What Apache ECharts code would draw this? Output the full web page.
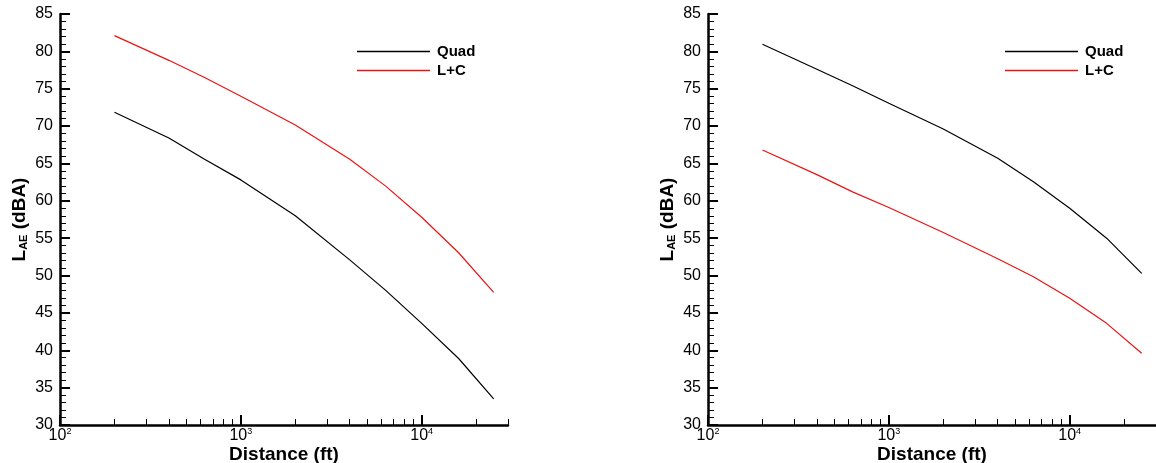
<!DOCTYPE html>
<html>
<head>
<meta charset="utf-8">
<script src="https://cdn.jsdelivr.net/npm/echarts@6/dist/echarts.min.js"></script>
<style>
html,body{margin:0;padding:0;background:#fff;}
#c{width:1156px;height:463px;}
</style>
</head>
<body>
<div id="c"></div>
<script>
// ---- data ----
const distances = [200, 400, 630, 1000, 2000, 4000, 6300, 10000, 16000, 25000];
const leftQuad  = [71.85, 68.4, 65.55, 62.8, 58.0, 52.1, 48.05, 43.6, 38.9, 33.5];
const leftLC    = [82.1, 78.8, 76.5, 74.0, 70.15, 65.55, 62.0, 57.8, 53.05, 47.75];
const rightQuad = [80.95, 77.6, 75.4, 73.05, 69.6, 65.7, 62.55, 59.0, 55.0, 50.3];
const rightLC   = [66.8, 63.5, 61.2, 59.1, 55.75, 52.25, 49.85, 46.95, 43.6, 39.6];
const seriesNames = ['Quad', 'L+C'];
const majorTicksX = [100, 1000, 10000];
const minorTicksX = [200,300,400,500,600,700,800,900,2000,3000,4000,5000,6000,7000,8000,9000,20000,30000];
const xMin = 100, xMax = 30000;
const yMin = 30, yMax = 85, yStep = 5;

const FONT = "'Liberation Sans', Arial, sans-serif";
const pairs = (ys) => distances.map((d, i) => [d, ys[i]]);

function majorX(gridIndex) {
  return {
    type: 'log', logBase: 10, gridIndex, min: xMin, max: xMax, position: 'bottom', offset: 0,
    name: 'Distance (ft)', nameLocation: 'middle', nameGap: 20, nameMoveOverlap: false,
    nameTextStyle: { fontFamily: FONT, fontSize: 19, fontWeight: 'bold', color: '#000' },
    axisLine: { show: true, lineStyle: { color: '#000', width: 2.5 } },
    axisTick: { show: true, inside: true, length: 10, customValues: majorTicksX, lineStyle: { color: '#000', width: 2 } },
    axisLabel: {
      show: true, customValues: majorTicksX, margin: 2,
      formatter: (v) => '{b|10}{s|' + Math.round(Math.log10(v)) + '}',
      rich: {
        b: { fontFamily: FONT, fontSize: 16, color: '#000' },
        s: { fontFamily: FONT, fontSize: 9, color: '#000', padding: [0, 0, 9, 0] }
      }
    },
    splitLine: { show: false }, minorTick: { show: false }
  };
}
function minorX(gridIndex) {
  return {
    type: 'log', logBase: 10, gridIndex, min: xMin, max: xMax, position: 'bottom', offset: 0,
    axisLine: { show: false },
    axisTick: { show: true, inside: true, length: 6, customValues: minorTicksX, lineStyle: { color: '#000', width: 1 } },
    axisLabel: { show: false }, splitLine: { show: false }
  };
}
function yAx(gridIndex) {
  return {
    type: 'value', gridIndex, min: yMin, max: yMax, interval: yStep,
    name: '{l|L}{s|AE}{l| (dBA)}', nameLocation: 'middle', nameGap: 31, nameRotate: 90,
    nameTextStyle: {
      rich: {
        l: { fontFamily: FONT, fontSize: 19, fontWeight: 'bold', color: '#000' },
        s: { fontFamily: FONT, fontSize: 11, fontWeight: 'bold', color: '#000', padding: [8, 0, 0, 0] }
      }
    },
    axisLine: { show: true, lineStyle: { color: '#000', width: 2.5 } },
    axisTick: { show: true, inside: true, length: 10, lineStyle: { color: '#000', width: 2 } },
    minorTick: { show: true, splitNumber: 5, length: 6, lineStyle: { color: '#000', width: 1 } },
    axisLabel: { fontFamily: FONT, fontSize: 16, color: '#000', margin: 7 },
    splitLine: { show: false }, minorSplitLine: { show: false }
  };
}
function line(name, data, color, xi, yi) {
  return {
    type: 'line', name, data: pairs(data), xAxisIndex: xi, yAxisIndex: yi,
    symbol: 'none', smooth: false, lineStyle: { color, width: 1.2 }, itemStyle: { color },
    animation: false, z: 3
  };
}
function legend(left) {
  return {
    data: seriesNames, orient: 'vertical', left, top: 39, itemWidth: 73, itemHeight: 14, itemGap: 4,
    icon: 'path://M0,0 L73,0 L73,1.3 L0,1.3 Z',
    textStyle: { fontFamily: FONT, fontSize: 15, fontWeight: 'bold', color: '#000', padding: [0, 0, 0, 2] },
    selectedMode: false
  };
}

const chart = echarts.init(document.getElementById('c'), null, { renderer: 'canvas' });
chart.setOption({
  backgroundColor: '#fff',
  animation: false,
  grid: [
    { left: 60, top: 14, width: 448, height: 411, outerBoundsMode: 'none', containLabel: false },
    { left: 708, top: 14, width: 448, height: 411, outerBoundsMode: 'none', containLabel: false }
  ],
  xAxis: [majorX(0), minorX(0), majorX(1), minorX(1)],
  yAxis: [yAx(0), yAx(1)],
  legend: [legend(352), legend(1000)],
  series: [
    line(seriesNames[0], leftQuad, '#000000', 0, 0),
    line(seriesNames[1], leftLC, '#ee1111', 0, 0),
    line(seriesNames[0], rightQuad, '#000000', 2, 1),
    line(seriesNames[1], rightLC, '#ee1111', 2, 1)
  ]
});
</script>
</body>
</html>
